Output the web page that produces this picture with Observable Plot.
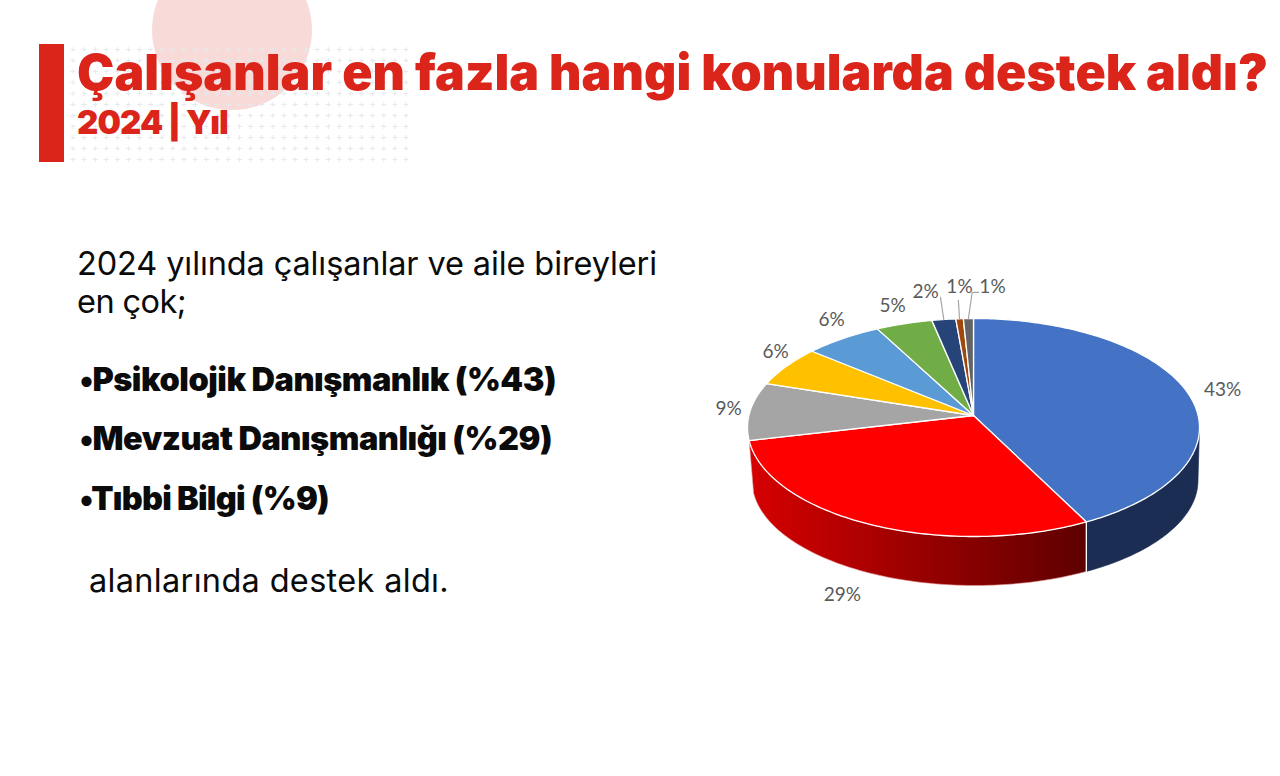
<!DOCTYPE html>
<html lang="tr">
<head>
<meta charset="utf-8">
<script src="https://cdn.jsdelivr.net/npm/d3@7"></script>
<script src="https://cdn.jsdelivr.net/npm/@observablehq/plot@0.6"></script>
<style>
html,body{margin:0;padding:0;background:#fff;width:1280px;height:776px;overflow:hidden}
#page{position:relative;width:1280px;height:776px;overflow:hidden;font-family:Inter,sans-serif}
.t{position:absolute;white-space:nowrap;line-height:1;margin:0}
#circle{position:absolute;left:152px;top:-50px;width:160px;height:160px;border-radius:50%;background:#f8dbd9}
#bar{position:absolute;left:39px;top:44px;width:25px;height:118px;background:#dc251a}
#grid{position:absolute;left:68px;top:44px;width:340px;height:122px}
#chart{position:absolute;left:700px;top:270px}
</style>
</head>
<body>
<div id="page">
  <div id="circle"></div>
  <svg id="grid"><defs><pattern id="plus" width="11.1" height="11" patternUnits="userSpaceOnUse" x="0" y="0">
    <path d="M2.5 5.5h5M5 3v5" stroke="#e4e9ec" stroke-width="1" fill="none"/></pattern></defs>
    <rect width="340" height="122" fill="url(#plus)"/></svg>
  <div id="bar"></div>
  <div id="chart"></div>
</div>
<script>
// Chart data
const categories = ["Psikolojik Danışmanlık","Mevzuat Danışmanlığı","Tıbbi Bilgi","Diğer A","Diğer B","Diğer C","Diğer D","Diğer E","Diğer F"];
const shares = [42.6, 28.9, 8.6, 6.1, 6.2, 4.5, 1.9, 0.6, 0.8];
const tickLabels = ["43%","29%","9%","6%","6%","5%","2%","1%","1%"];
const colors = ["#4472c4","#ff0000","#a5a5a5","#ffc000","#5b9bd5","#70ad47","#264478","#9e480e","#636363"];
const wallFills = ["#1b2d52","url(#redWall)",null,null,null,null,null,null,null];

// Page text
const titleText = "Çalışanlar en fazla hangi konularda destek aldı?";
const subtitleText = "2024 | Yıl";
const introLines = ["2024 yılında çalışanlar ve aile bireyleri","en çok;"];
const bullets = ["•Psikolojik Danışmanlık (%43)","•Mevzuat Danışmanlığı (%29)","•Tıbbi Bilgi (%9)"];
const outro = "alanlarında destek aldı.";

const page = document.getElementById("page");
function put(text, left, baseline, right, size, weight, color){
  const s = document.createElement("div");
  s.className = "t"; s.textContent = text;
  s.style.cssText = `left:${left}px;font-size:${size}px;font-weight:${weight};color:${color}`;
  page.appendChild(s);
  const w = s.getBoundingClientRect().width;
  s.style.letterSpacing = ((right-left-w)/text.length) + "px";
  // place by baseline
  const probe = document.createElement("span");
  probe.style.cssText = "display:inline-block;width:0;height:0;vertical-align:baseline";
  s.appendChild(probe);
  s.style.top = "0px";
  const b = probe.getBoundingClientRect().bottom;
  s.removeChild(probe);
  s.style.top = (baseline-b)+"px";
}
const RED = "#dc251a", INK = "#0b0b0b";
put(titleText, 77, 90, 1268, 50, 900, RED);
put(subtitleText, 77, 134, 228, 33, 900, RED);
put(introLines[0], 77, 275, 657, 32.5, 400, INK);
put(introLines[1], 77, 313, 186, 32.5, 400, INK);
put(bullets[0], 80, 391, 556, 32.5, 900, INK);
put(bullets[1], 80, 450, 552, 32.5, 900, INK);
put(bullets[2], 80, 510, 329, 32.5, 900, INK);
put(outro, 89, 592, 449, 32.5, 400, INK);

// Pie geometry in unit-ellipse coordinates
const tilt = 0.11;                       // perspective shift of the pie centre
const project = (a, r=1) => {
  const X = r*Math.sin(a), Y = r*Math.cos(a), w = 1 + tilt*Y;
  return [X*Math.sqrt(1-tilt*tilt)/w, (Y+tilt)/w];
};
const arcPts = (a, b) => {
  const n = Math.max(2, Math.ceil((b-a)/(Math.PI/180)));
  return d3.range(n+1).map(i => project(a+(b-a)*i/n));
};
const lower = ([x,y]) => [x*0.9867+0.0066, y*0.9633-0.4862];
const arcs = d3.pie().sort(null).value(d=>d)(shares);
const apex = project(0,0);
const wedge = s => [apex, ...arcPts(s.startAngle, s.endAngle), apex];

const visibleFrom = Math.acos(-tilt), visibleTo = 2*Math.PI - Math.acos(-tilt);
const wallMarks = arcs.flatMap((s,i) => {
  if (!wallFills[i]) return [];
  const a = Math.max(s.startAngle, visibleFrom), b = Math.min(s.endAngle, visibleTo);
  const top = arcPts(a,b), pts = [...top, ...top.slice().reverse().map(lower), top[0]];
  return [Plot.line(pts, {x:d=>d[0], y:d=>d[1], fill:wallFills[i], stroke:i===1?"#e8a0a0":"#1b2d52", strokeWidth:0.6, curve:"linear"})];
});
// white seam between the two visible walls
const seamTop = project(arcs[0].endAngle);
const seam = [seamTop, lower(seamTop)];

const faceMarks = arcs.map((s,i) =>
  Plot.line(wedge(s), {x:d=>d[0], y:d=>d[1], fill:colors[i], stroke:"#fff", strokeWidth:1.3, curve:"linear"}));

// Label placement in the same unit coordinates
const labelX = [1.102,-0.580,-1.084,-0.876,-0.628,-0.358,-0.212,-0.062,0.084];
const labelY = [0.349,-1.532,0.174,0.697,0.991,1.119,1.248,1.294,1.294];
const labels = tickLabels.map((t,i)=>({t,x:labelX[i],y:labelY[i]}));
const mid = s => project((s.startAngle+s.endAngle)/2);
const leaderPaths = [[6,[[-0.146,1.194]]],[7,[[-0.067,1.166]]],[8,[[-0.006,1.239],[0.022,1.239]]]];
const leaders = leaderPaths.flatMap(([i,rest]) =>
  [mid(arcs[i]), ...rest].map(p=>({x:p[0],y:p[1],z:i})));

const defs = () => {
  const ns = "http://www.w3.org/2000/svg";
  const d = document.createElementNS(ns,"defs");
  const g = document.createElementNS(ns,"linearGradient");
  g.setAttribute("id","redWall");
  [["0%","#d60000"],["100%","#5e0000"]].forEach(([o,c])=>{
    const st = document.createElementNS(ns,"stop");
    st.setAttribute("offset",o); st.setAttribute("stop-color",c); g.appendChild(st);
  });
  d.appendChild(g);
  return d;
};

const chart = Plot.plot({
  width: 570, height: 345, margin: 0,
  style: {background:"transparent", overflow:"visible"},
  x: {axis:null, domain:[-1,1], range:[47,499]},
  y: {axis:null, domain:[-1,1], range:[266,48]},
  marks: [
    defs,
    ...wallMarks,
    Plot.line(seam, {x:d=>d[0], y:d=>d[1], stroke:"#fff", strokeWidth:1.3}),
    ...faceMarks,
    Plot.line(leaders, {x:"x", y:"y", z:"z", stroke:"#a6a6a6", strokeWidth:1.2, curve:"linear"}),
    Plot.text(labels, {x:"x", y:"y", text:"t", fontFamily:"Lato", fontSize:19, fill:"#595959", textAnchor:"middle", lineAnchor:"middle"})
  ]
});
document.getElementById("chart").appendChild(chart);
</script>
</body>
</html>
